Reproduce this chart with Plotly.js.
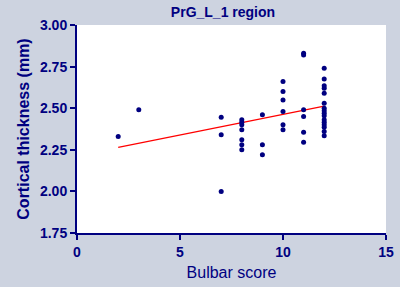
<!DOCTYPE html>
<html>
<head>
<meta charset="utf-8">
<script src="https://cdn.plot.ly/plotly-3.0.1.min.js"></script>
<style>html,body{margin:0;padding:0;background:#cdd3e0;}#chart{width:400px;height:287px;}</style>
</head>
<body>
<div id="chart"></div>
<script>
// Bulbar score (x) and cortical thickness in mm (y)
const bulbarScore = [2, 3,
  7, 7, 7,
  8, 8, 8, 8, 8, 8, 8,
  9, 9, 9,
  10, 10, 10, 10, 10, 10,
  11, 11, 11, 11, 11, 11,
  12, 12, 12, 12, 12, 12, 12, 12, 12, 12, 12, 12, 12, 12, 12, 12];
const thickness = [2.33, 2.49,
  2.445, 2.34, 2.00,
  2.43, 2.415, 2.40, 2.37, 2.31, 2.28, 2.25,
  2.46, 2.28, 2.22,
  2.66, 2.60, 2.55, 2.48, 2.40, 2.37,
  2.83, 2.82, 2.49, 2.45, 2.355, 2.295,
  2.74, 2.675, 2.635, 2.62, 2.59, 2.53, 2.50, 2.485, 2.47, 2.455, 2.43, 2.415, 2.40, 2.385, 2.36, 2.335];
// Regression line end points
const fitX = [2, 12];
const fitY = [2.265, 2.513];

const navy = '#000080';
const axisFont = {family: 'Arial, Liberation Sans, sans-serif', size: 14, color: navy, weight: 'bold'};

const data = [
  {x: fitX, y: fitY, type: 'scatter', mode: 'lines', line: {color: '#ff0000', width: 1.2}, hoverinfo: 'skip'},
  {x: bulbarScore, y: thickness, type: 'scatter', mode: 'markers', marker: {color: navy, size: 5}}
];

const layout = {
  width: 400, height: 287,
  paper_bgcolor: '#cdd3e0',
  plot_bgcolor: '#ffffff',
  showlegend: false,
  margin: {l: 77, r: 14, t: 25, b: 54, pad: 0},
  title: {text: 'PrG_L_1 region', x: 0.5575, xanchor: 'center', y: 0.958, yanchor: 'middle',
    font: {family: 'Arial, Liberation Sans, sans-serif', size: 14, color: navy, weight: 'bold'}},
  xaxis: {
    range: [0, 15], tickvals: [0, 5, 10, 15], ticktext: ['0', '5', '10', '15'],
    showgrid: false, zeroline: false, showline: true, linecolor: navy, linewidth: 2,
    ticks: 'outside', ticklen: 5, tickwidth: 2, tickcolor: navy,
    tickfont: axisFont, automargin: false,
    title: {text: 'Bulbar score', standoff: 8,
      font: {family: 'Arial, Liberation Sans, sans-serif', size: 16, color: navy}}
  },
  yaxis: {
    range: [1.75, 3.0], tickvals: [1.75, 2.0, 2.25, 2.5, 2.75, 3.0],
    ticktext: ['1.75', '2.00', '2.25', '2.50', '2.75', '3.00'],
    showgrid: false, zeroline: false, showline: true, linecolor: navy, linewidth: 2,
    ticks: 'outside', ticklen: 5, tickwidth: 2, tickcolor: navy,
    tickfont: axisFont, automargin: false,
    title: {text: 'Cortical thickness (mm)', standoff: 6,
      font: {family: 'Arial, Liberation Sans, sans-serif', size: 16, color: navy, weight: 'bold'}}
  }
};

Plotly.newPlot('chart', data, layout, {displayModeBar: false, staticPlot: true});
</script>
</body>
</html>
